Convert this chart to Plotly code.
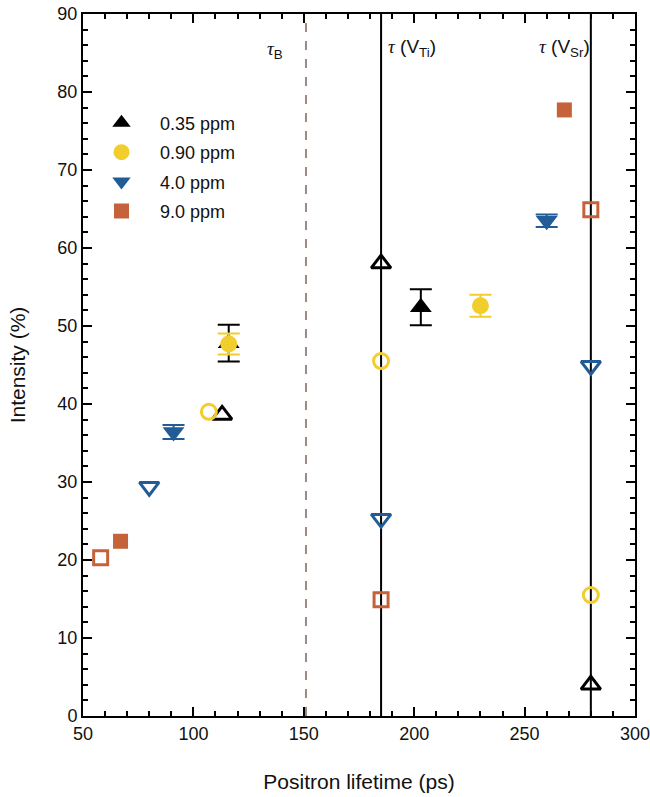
import plotly.graph_objects as go

# ---- data ----
series_names = ["0.35 ppm", "0.90 ppm", "4.0 ppm", "9.0 ppm"]
colors = ["#000000", "#F2CD2E", "#225C96", "#C5623A"]
sym_filled = ["triangle-up", "circle", "triangle-down", "square"]
sym_open = ["triangle-up-open", "circle-open", "triangle-down-open", "square-open"]

# filled (bulk / average lifetime) points
filled_x = [[116, 203], [116, 230], [91, 260], [67, 268]]
filled_y = [[47.8, 52.4], [47.7, 52.6], [36.4, 63.5], [22.4, 77.7]]
filled_err = [[2.35, 2.3], [1.35, 1.4], [0.9, 0.8], [0.7, 0.6]]
filled_xerr = [[0, 0], [0, 0], [0, 0], [1.5, 1.5]]

# open (decomposed) points
open_x = [[113, 185, 280], [107, 185, 280], [80, 185, 280], [58, 185, 280]]
open_y = [[38.6, 58.0, 4.0], [39.0, 45.5, 15.5], [29.4, 25.3, 44.9], [20.3, 14.9, 64.9]]

tau_b = 151
tau_vti = 185
tau_vsr = 280

SANS = "Liberation Sans, Arial, sans-serif"
TAU = "<span style=\"font-family:'Liberation Serif', serif\"><i>τ</i></span>"

fig = go.Figure()

# reference lines
fig.add_shape(type="line", x0=tau_b, x1=tau_b, y0=0, y1=1, yref="paper",
              line=dict(color="#9C8C84", width=2, dash="dash"), layer="below")
for xv in [tau_vti, tau_vsr]:
    fig.add_shape(type="line", x0=xv, x1=xv, y0=0, y1=1, yref="paper",
                  line=dict(color="#000000", width=2), layer="below")

open_sizes = [17, 15, 17, 14]
filled_sizes = [19, 17, 19, 15]

# open markers (not in legend)
for i in range(4):
    fig.add_trace(go.Scatter(
        x=open_x[i], y=open_y[i], mode="markers", showlegend=False,
        marker=dict(symbol=sym_open[i], size=open_sizes[i],
                    color=colors[i], line=dict(color=colors[i], width=3)),
        hoverinfo="x+y"))

# filled markers with error bars
for i in range(4):
    fig.add_trace(go.Scatter(
        x=filled_x[i], y=filled_y[i], mode="markers", name=series_names[i],
        legendgroup=series_names[i],
        marker=dict(symbol=sym_filled[i], size=filled_sizes[i],
                    color=colors[i], line=dict(width=0)),
        error_y=dict(type="data", array=filled_err[i], color=colors[i],
                     thickness=2, width=11 if i != 3 else 7),
        error_x=dict(type="data", array=filled_xerr[i], color=colors[i],
                     thickness=2, width=4, visible=(i == 3))))

fig.add_annotation(x=132.5, y=0.968, xref="x", yref="paper", showarrow=False,
                   xanchor="left", text=TAU + "<sub>B</sub>",
                   font=dict(family=SANS, size=19, color="#111"))
fig.add_annotation(x=187.2, y=0.971, xref="x", yref="paper", showarrow=False,
                   xanchor="left", text=TAU + " (V<sub>Ti</sub>)",
                   font=dict(family=SANS, size=19, color="#111"))
fig.add_annotation(x=255.6, y=0.971, xref="x", yref="paper", showarrow=False,
                   xanchor="left", text=TAU + " (V<sub>Sr</sub>)",
                   font=dict(family=SANS, size=19, color="#111"))

axis_common = dict(showline=True, linecolor="black", linewidth=2, mirror="allticks",
                   ticks="inside", tickcolor="black", tickwidth=2, ticklen=9,
                   showgrid=False, zeroline=False, automargin=False,
                   ticklabeloverflow="allow",
                   tickfont=dict(family=SANS, size=18, color="#111"))

fig.update_xaxes(range=[50, 300], dtick=50, tick0=50,
                 minor=dict(dtick=10, ticks="inside", ticklen=5, tickwidth=2, tickcolor="black"),
                 title=dict(text="Positron lifetime (ps)", standoff=32,
                            font=dict(family=SANS, size=21, color="#111")),
                 **axis_common)
fig.update_yaxes(range=[0, 90], dtick=10,
                 minor=dict(dtick=2, ticks="inside", ticklen=5, tickwidth=2, tickcolor="black"),
                 title=dict(text="Intensity (%)", standoff=26,
                            font=dict(family=SANS, size=21, color="#111")),
                 **axis_common)

fig.update_layout(
    width=650, height=797,
    margin=dict(l=83, r=15, t=14, b=81),
    plot_bgcolor="white", paper_bgcolor="white",
    legend=dict(x=0.0, y=0.871, xanchor="left", yanchor="top",
                bgcolor="rgba(0,0,0,0)", tracegroupgap=3, itemwidth=67,
                font=dict(family=SANS, size=18, color="#111")),
    font=dict(family=SANS),
)

fig.write_html("out.html", config={"displayModeBar": False},
               post_script="document.body.style.margin='0';document.body.style.overflow='hidden';")
